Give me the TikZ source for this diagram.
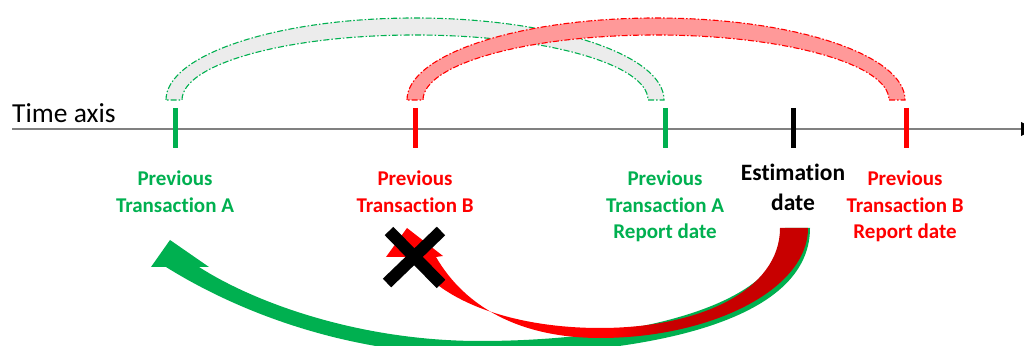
\documentclass[tikz,border=0pt]{standalone}
\usepackage{fontspec}
\setmainfont{Carlito}[Ligatures=NoCommon]
\definecolor{offgreen}{RGB}{0,176,80}
\definecolor{offred}{RGB}{255,0,0}
\definecolor{darkred}{RGB}{200,0,0}
\definecolor{arcgray}{RGB}{236,236,236}
\definecolor{arcred}{RGB}{255,153,153}
\definecolor{axisgray}{RGB}{128,128,128}
\pgfdeclarehorizontalshading{redarrow}{100bp}{color(0bp)=(offred); color(52bp)=(offred); color(58bp)=(darkred); color(100bp)=(darkred)}
\tikzset{
  tickmark/.style={line width=5pt},
  lbl/.style={anchor=north, inner sep=0pt, align=center, font=\bfseries\fontsize{21}{26.5}\selectfont},
  band/.style={line width=1.1pt, dash pattern=on 6pt off 2pt on 1.5pt off 2pt},
}
\begin{document}
\begin{tikzpicture}[x=1pt,y=1pt]
\useasboundingbox (0,0) rectangle (1024,345);
% arcs
\draw[band, draw=offgreen, fill=arcgray] (166,245) arc[start angle=180, end angle=0, x radius=249pt, y radius=82pt]
  -- (648,245) arc[start angle=0, end angle=180, x radius=233pt, y radius=65pt] -- cycle;
\draw[band, draw=offred, fill=arcred] (407,245) arc[start angle=180, end angle=0, x radius=249pt, y radius=82pt]
  -- (889,245) arc[start angle=0, end angle=180, x radius=233pt, y radius=65pt] -- cycle;
% axis
\coordinate (axs) at (12,216);
\coordinate (axe) at (1021,216);
\draw[axisgray, line width=1.4pt] (axs) -- (axe);
\fill[black] (1021,223) -- (1024,221.5) -- (1024,210.5) -- (1021,209) -- cycle;
\node[anchor=base west, inner sep=0pt, font=\fontsize{27.5}{33}\selectfont] (tax) at (12,222) {Time axis};
% ticks
\draw[tickmark, offgreen] (175,237) -- (175,197);
\draw[tickmark, offred] (415,237) -- (415,197);
\draw[tickmark, offgreen] (665,237) -- (665,197);
\draw[tickmark, black] (793,237) -- (793,197);
\draw[tickmark, offred] (906,237) -- (906,197);
% labels
\node[lbl, text=offgreen] (la) at (175,174) {Previous\\Transaction A};
\node[lbl, text=offred] (lb) at (415,174) {Previous\\Transaction B};
\node[lbl, text=offgreen] (lar) at (665,174) {Previous\\Transaction A\\Report date};
\node[lbl, text=black, font=\bfseries\fontsize{23.5}{30}\selectfont] (le) at (793,181) {Estimation\\date};
\node[lbl, text=offred] (lbr) at (905,174) {Previous\\Transaction B\\Report date};
% green arrow
\fill[offgreen] (810,117) .. controls (810,15) and (620,-10) .. (480,-10)
  .. controls (340,-10) and (230,38) .. (166,78)
  -- (151,78) -- (170,105) -- (209,78) -- (199,78)
  .. controls (255,42) and (360,4) .. (480,4)
  .. controls (620,4) and (785,35) .. (785,117) -- cycle;
% red arrow
\shade[shading=redarrow] (808,117) .. controls (808,55) and (710,7) .. (600,7)
  .. controls (520,7) and (465,38) .. (436,88)
  -- (443,89) -- (407,117) -- (386,88) -- (411,88)
  .. controls (442,40) and (520,17) .. (600,17)
  .. controls (700,17) and (780,55) .. (780,117) -- cycle;
% cross
\draw[line width=12pt, black] (389,114) -- (441,61);
\draw[line width=12pt, black] (441,114) -- (387,62);
\end{tikzpicture}
\end{document}
